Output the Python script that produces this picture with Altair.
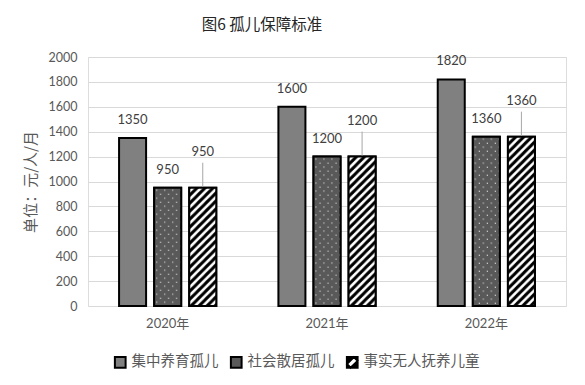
import altair as alt
import pandas as pd
from urllib.parse import quote

# ---- data ----
years = ["2020年", "2021年", "2022年"]
series = ["集中养育孤儿", "社会散居孤儿", "事实无人抚养儿童"]
centralized = [1350, 1600, 1820]
scattered = [950, 1200, 1360]
de_facto = [950, 1200, 1360]
y_ticks = [0, 200, 400, 600, 800, 1000, 1200, 1400, 1600, 1800, 2000]

rows = []
for i, yr in enumerate(years):
    for s, vals in zip(series, [centralized, scattered, de_facto]):
        rows.append({"year": yr, "series": s, "value": vals[i]})
df = pd.DataFrame(rows)

# ---- styles ----
CJK = "Noto Sans CJK SC"
NUM = "Lato, 'Noto Sans CJK SC'"
GRAY_TXT = "#595959"

DOTS_SVG = (
    "<svg xmlns='http://www.w3.org/2000/svg' width='100%' height='100%'>"
    "<defs><pattern id='d' width='8' height='8' patternUnits='userSpaceOnUse'>"
    "<rect width='8' height='8' fill='#595959'/>"
    "<rect x='2' y='2' width='1' height='1' fill='#ffffff'/>"
    "<rect x='6' y='6' width='1' height='1' fill='#ffffff'/>"
    "</pattern></defs><rect width='100%' height='100%' fill='url(#d)'/></svg>"
)
STRIPE_SVG = (
    "<svg xmlns='http://www.w3.org/2000/svg' width='100%' height='100%'>"
    "<defs><pattern id='s' width='8' height='8' patternUnits='userSpaceOnUse'>"
    "<rect width='8' height='8' fill='#ffffff'/>"
    "<path d='M-2,2 L2,-2 M0,8 L8,0 M6,10 L10,6' stroke='#000000' stroke-width='3'/>"
    "</pattern></defs><rect width='100%' height='100%' fill='url(#s)'/></svg>"
)
DOTS_URL = "data:image/svg+xml," + quote(DOTS_SVG)
STRIPE_URL = "data:image/svg+xml," + quote(STRIPE_SVG)

# legend symbol shapes (unit square paths); the third has a diagonal white band cut out
SQUARE = "M-1,-1H1V1H-1Z"
HATCH_ICON = "M-1,-1H1V1H-1Z M-0.3,1L1,-0.3L0.3,-1L-1,0.3Z"

legend_opts = dict(
    title=None, orient="none", legendX=25, legendY=298, direction="horizontal",
    symbolSize=115, symbolStrokeWidth=2, symbolOpacity=1,
    labelFont=CJK, labelFontSize=14.5, labelColor=GRAY_TXT,
    labelOffset=4, columnPadding=7, padding=0,
)
color_scale = alt.Scale(domain=series, range=["#808080", "#595959", "#000000"])
shape_scale = alt.Scale(domain=series, range=[SQUARE, SQUARE, HATCH_ICON])

x_enc = alt.X(
    "year:N", sort=years, title=None,
    scale=alt.Scale(paddingInner=0.39, paddingOuter=0.195),
    axis=alt.Axis(labelAngle=0, labelFont=NUM, labelFontSize=13, labelColor=GRAY_TXT,
                  labelPadding=11, ticks=False, tickSize=0, domain=False, grid=False),
)
xo_enc = alt.XOffset("series:N", sort=series, scale=alt.Scale(paddingInner=0.23))
y_enc = alt.Y(
    "value:Q", scale=alt.Scale(domain=[0, 2000], nice=False),
    axis=alt.Axis(values=y_ticks, format="d", labelOverlap=False,
                  labelFont=NUM, labelFontSize=12.5, labelColor=GRAY_TXT,
                  labelPadding=11, ticks=False, tickSize=0, domain=False,
                  gridColor="#d9d9d9", gridWidth=1,
                  title="单位：元/人/月", titleFont=CJK, titleFontSize=15,
                  titleFontWeight="normal", titleColor=GRAY_TXT,
                  titleX=-58, titleY=124.5, titleAlign="center", titleBaseline="middle",
                  titleAngle=270),
)

base = alt.Chart(df).encode(x=x_enc, xOffset=xo_enc, y=y_enc)

bars = base.mark_bar(stroke="black", strokeWidth=2).encode(
    color=alt.Color("series:N", sort=series, scale=color_scale, legend=alt.Legend(**legend_opts)),
)

# legend-only layer: carries the symbol shapes, draws nothing
legend_keys = base.transform_filter(alt.datum.value < 0).mark_point(
    filled=True, opacity=1, stroke="black", strokeWidth=2
).encode(
    color=alt.Color("series:N", sort=series, scale=color_scale, legend=alt.Legend(**legend_opts)),
    shape=alt.Shape("series:N", sort=series, scale=shape_scale, legend=alt.Legend(**legend_opts)),
)

dots = base.transform_filter(alt.datum.series == series[1]).mark_image(aspect=False).encode(
    url=alt.value(DOTS_URL)
)
stripes = base.transform_filter(alt.datum.series == series[2]).mark_image(aspect=False).encode(
    url=alt.value(STRIPE_URL)
)
outline = base.transform_filter(alt.datum.series != series[0]).mark_bar(
    fillOpacity=0, stroke="black", strokeWidth=2
)

labels_near = base.transform_filter(alt.datum.series != series[2]).mark_text(
    font=NUM, fontSize=13, color="#404040", baseline="middle", dy=-18
).encode(text=alt.Text("value:Q"))

labels_far = base.transform_filter(alt.datum.series == series[2]).mark_text(
    font=NUM, fontSize=13, color="#404040", baseline="middle", dy=-36
).encode(text=alt.Text("value:Q"))

leaders = base.transform_filter(alt.datum.series == series[2]).mark_rule(
    color="#a6a6a6", strokeWidth=1, y2Offset=-25, yOffset=-1
).encode(y2=alt.Y2("value:Q"))

chart = alt.layer(bars, legend_keys, dots, stripes, outline, leaders, labels_near, labels_far).properties(
    width=478,
    height=249,
    title=alt.TitleParams(text="图6 孤儿保障标准", font=CJK, fontSize=15.5, fontWeight="normal",
                          color="#262626", anchor="middle", dx=-65, offset=18),
    padding={"left": 80, "top": 49, "right": 11, "bottom": 71},
    autosize=alt.AutoSizeParams(type="none"),
).configure_view(strokeWidth=0).configure(background="white")

chart.save("out.html", embed_options={"renderer": "svg", "actions": False})
